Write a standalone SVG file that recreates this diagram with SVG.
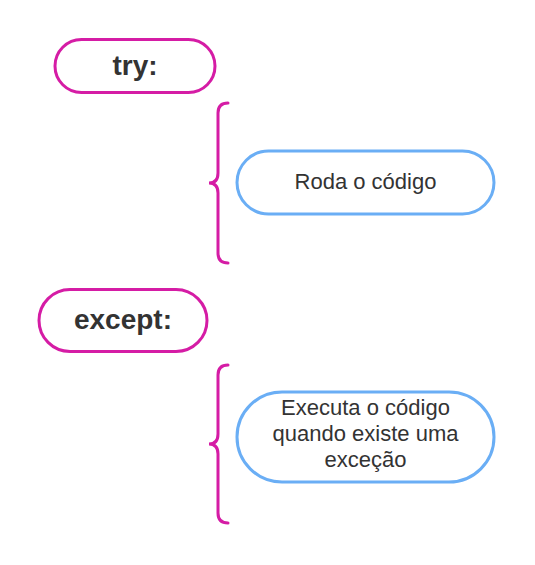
<svg xmlns="http://www.w3.org/2000/svg" width="535" height="565" viewBox="0 0 535 565">
<style>
.mag{fill:#fff;stroke:#d51ca5;stroke-width:3}
.blu{fill:#fff;stroke:#6aaef5;stroke-width:3}
.br{fill:none;stroke:#d51ca5;stroke-width:3;stroke-linecap:round}
.h{font-family:"Liberation Sans",Arial,sans-serif;font-weight:bold;font-size:28px;fill:#333;text-anchor:middle}
.t{font-family:"Liberation Sans",Arial,sans-serif;font-size:22px;fill:#333;text-anchor:middle}
</style>
<rect width="535" height="565" fill="#fff"/>
<g id="try">
<rect class="mag" x="55" y="39.500" width="160" height="53" rx="26.500"/>
<text class="h" x="135" y="75">try:</text>
</g>
<g id="roda">
<rect class="blu" x="237" y="151" width="257" height="63" rx="31.500"/>
<text class="t" x="365.500" y="189">Roda o código</text>
</g>
<g id="except">
<rect class="mag" x="39" y="289.500" width="168" height="62" rx="31"/>
<text class="h" x="123" y="329">except:</text>
</g>
<g id="executa">
<rect class="blu" x="237" y="392" width="257" height="90" rx="45"/>
<text class="t" x="365.500" y="415">Executa o código</text>
<text class="t" x="365.500" y="441">quando existe uma</text>
<text class="t" x="365.500" y="467">exceção</text>
</g>
<g id="connectors">
<path class="br" d="M228,103 Q218,103 218,113 L218,173 Q218,183 209,183 Q218,183 218,193 L218,253 Q218,263 228,263"/>
<path class="br" d="M228,365 Q218,365 218,375 L218,434 Q218,444 209,444 Q218,444 218,454 L218,513 Q218,523 228,523"/>
</g>
</svg>
